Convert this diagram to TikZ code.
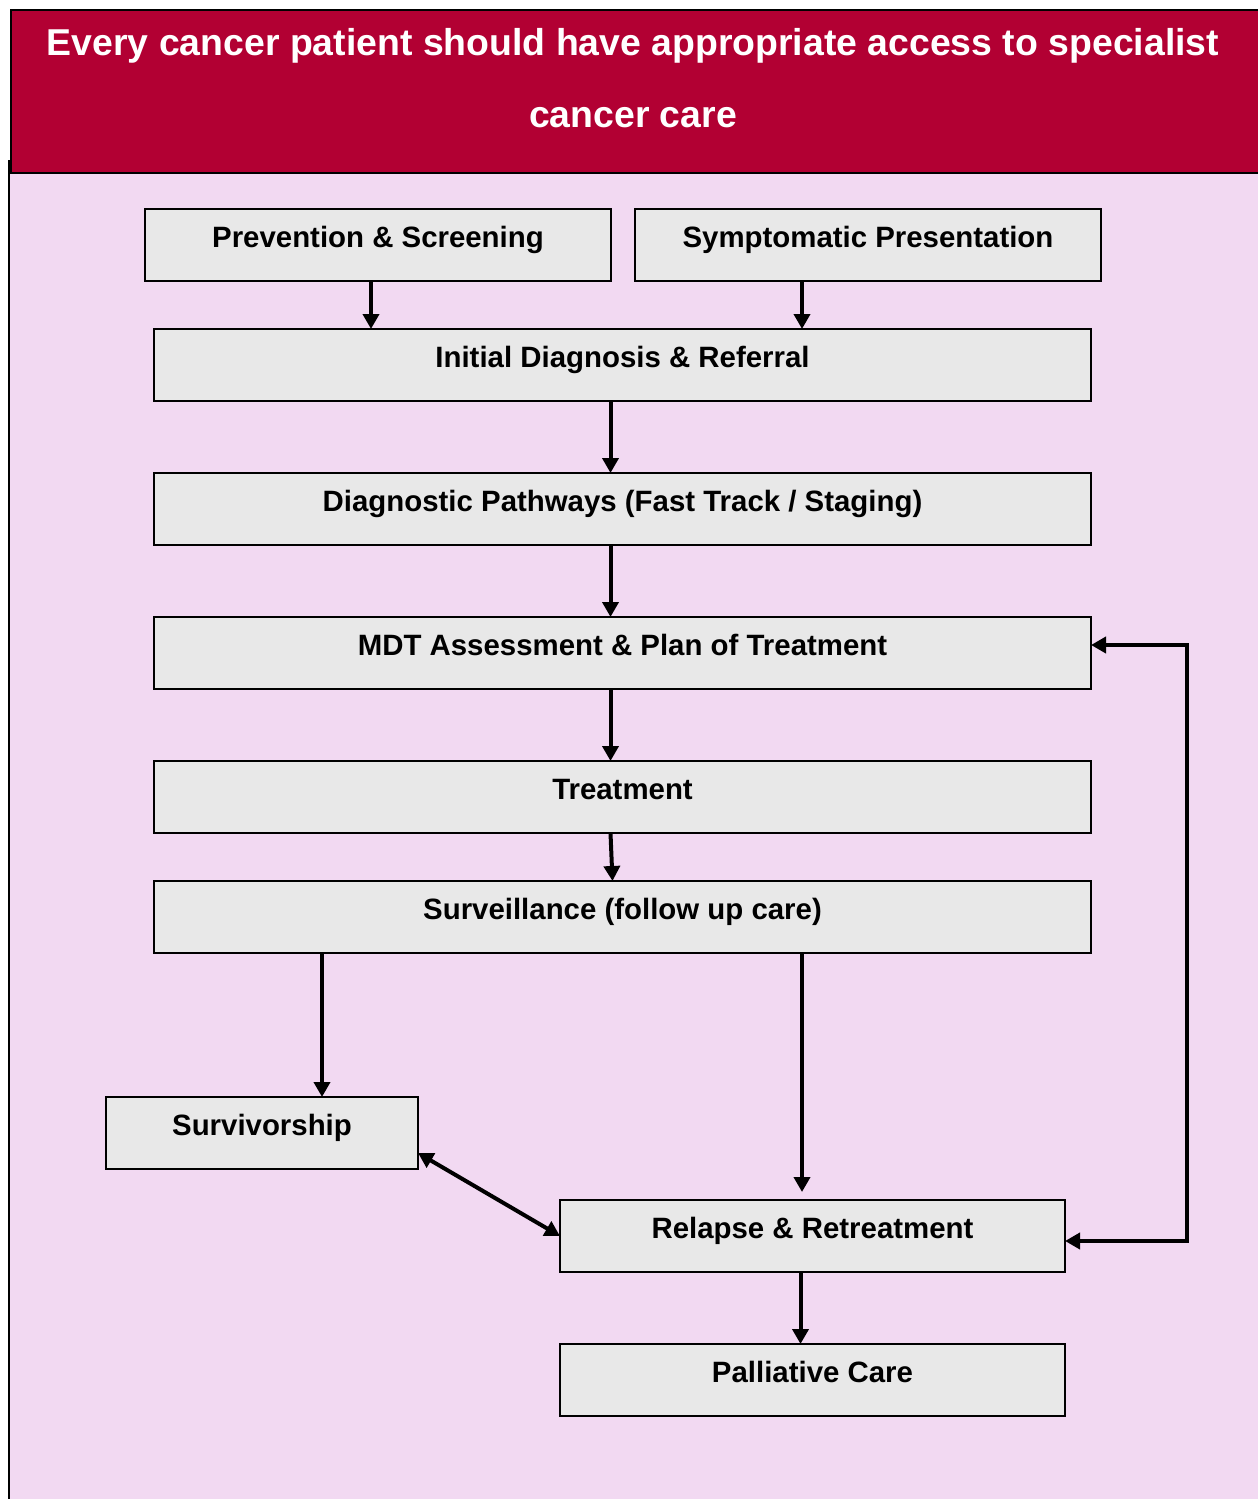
\documentclass[tikz,border=0pt]{standalone}
\usepackage{fontspec}
\setmainfont{Liberation Sans}
\usepackage{xcolor}
\usepackage{tikz}
\usetikzlibrary{arrows.meta,positioning,calc}
\definecolor{cHead}{HTML}{B20033}
\definecolor{cPink}{HTML}{F2D9F2}
\definecolor{cBox}{HTML}{E8E8E8}
\tikzset{
  box/.style={draw=black, line width=1pt, fill=cBox, outer sep=0pt, inner ysep=0pt,
              minimum width=#1, minimum height=36pt, text height=19pt, text depth=17pt,
              font=\fontsize{14.7}{17}\selectfont\bfseries},
  box/.default=468.5pt,
  flow/.style={-{Triangle[length=7.5pt,width=8pt]}, line width=2pt, draw=black},
  both/.style={{Triangle[length=7.5pt,width=8pt]}-{Triangle[length=7.5pt,width=8pt]}, line width=2pt, draw=black},
  title/.style={text=white, align=center, font=\fontsize{18.7}{36}\selectfont\bfseries},
}
\begin{document}
\begin{tikzpicture}[x=0.5pt, y=-0.5pt, node distance=36pt]
  \useasboundingbox (0,0) rectangle (1258,1499);
  % panel and banner
  \fill[cPink] (9,172) rectangle (1262,1503);
  \draw[line width=1pt] (9,160) -- (9,1503);
  \node[draw=black, line width=1pt, fill=cHead, minimum width=626pt, minimum height=81.5pt,
        inner sep=0pt, anchor=north west] (banner) at (10,9) {};
  \node[title] (heading) at (633,78) {Every cancer patient should have appropriate access to specialist\\cancer care};
  % entry points
  \node[box=233pt] (prev) at (378,245) {Prevention \& Screening};
  \node[box=233pt] (symp) at (868,245) {Symptomatic Presentation};
  % main pathway
  \node[box] (init) at (622.5,365) {Initial Diagnosis \& Referral};
  \node[box, below=of init] (diag) {Diagnostic Pathways (Fast Track / Staging)};
  \node[box, below=of diag] (mdt) {MDT Assessment \& Plan of Treatment};
  \node[box, below=of mdt] (treat) {Treatment};
  \node[box, below=24pt of treat] (surveil) {Surveillance (follow up care)};
  % outcomes
  \node[box=156pt] (survivor) at (262,1133) {Survivorship};
  \node[box=252.5pt] (relapse) at (812.5,1236) {Relapse \& Retreatment};
  \node[box=252.5pt, below=of relapse] (palliative) {Palliative Care};
  \draw[flow] ([xshift=-3.5pt]prev.south) -- ([xshift=-3.5pt]prev.south |- init.north);
  \draw[flow] ([xshift=-33pt]symp.south) -- ([xshift=-33pt]symp.south |- init.north);
  \draw[flow] ([xshift=-6pt]init.south) -- ([xshift=-6pt]diag.north);
  \draw[flow] ([xshift=-6pt]diag.south) -- ([xshift=-6pt]mdt.north);
  \draw[flow] ([xshift=-6pt]mdt.south) -- ([xshift=-6pt]treat.north);
  \draw[flow] ([xshift=-6pt]treat.south) -- ([xshift=-5pt]surveil.north);
  \draw[flow] ([xshift=30pt]survivor.north |- surveil.south) -- ([xshift=30pt]survivor.north);
  \draw[flow, shorten >=4pt] ([xshift=-5.25pt]relapse.north |- surveil.south) -- ([xshift=-5.25pt]relapse.north);
  \draw[flow] ([xshift=-6pt]relapse.south) -- ([xshift=-6pt]palliative.north);
  \draw[both] ([yshift=-10pt]survivor.east) -- (relapse.west);
  \draw[both] ([yshift=4pt]mdt.east) -- ++(96,0) |- ([yshift=-2.5pt]relapse.east);
\end{tikzpicture}
\end{document}
